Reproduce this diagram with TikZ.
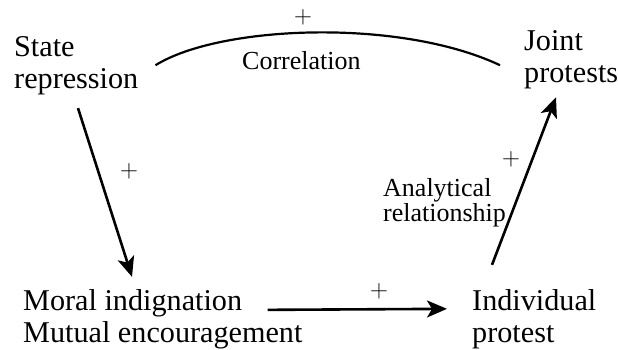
\documentclass[tikz,border=0pt]{standalone}
\usepackage{fontspec}
\setmainfont{Liberation Serif}
\usetikzlibrary{arrows.meta,positioning,calc}
\newcommand{\bigtxt}{\fontsize{30.2}{32}\selectfont}
\newcommand{\smalltxt}{\fontsize{26}{23}\selectfont}
\tikzset{
  factor/.style={align=left, inner sep=0pt, anchor=base west, font=\bigtxt},
  note/.style={align=left, inner sep=0pt, anchor=base west, font=\smalltxt},
  sign/.style={inner sep=0pt, font=\fontsize{23}{23}\selectfont},
  link/.style={line width=2.6pt, -{Stealth[length=20pt,width=17pt,inset=5pt]}},
  corr/.style={line width=2.2pt},
}

\begin{document}
\begin{tikzpicture}[x=1pt,y=-1pt]
 \useasboundingbox (0,0) rectangle (618,349);
 % factors (anchored at the baseline of the last line)
 \node[factor] (repr) at (14,88) {State\\repression};
 \node[factor] (joint) at (524,82) {Joint\\protests};
 \node[factor] (moral) at (23,342) {Moral indignation\\Mutual encouragement};
 \node[factor] (indiv) at (472,342) {Individual\\protest};
 % notes
 \node[note] (corrtxt) at (242,69) {Correlation};
 \node[note] (anatxt) at (383,221) {Analytical\\relationship};
 % links
 \draw[corr] ([shift={(17,0)}]repr.east) .. controls (220,25) and (400,18) .. ([shift={(-24,6)}]joint.west);
 \draw[link] ([shift={(64,13.5)}]repr.south west) -- ([shift={(109,-12)}]moral.north west);
 \draw[link] ([shift={(-35,21)}]moral.north east) -- ([shift={(-25,20)}]indiv.north west);
 \draw[link] ([shift={(20,-24)}]indiv.north west) -- ([shift={(32,8.6)}]joint.south west);
 % signs
 \node[sign] (pcorr) at (303,17) {$+$};
 \node[sign] (prepr) at (129,171) {$+$};
 \node[sign] (pmoral) at (379,291) {$+$};
 \node[sign] (pindiv) at (511,159) {$+$};
\end{tikzpicture}
\end{document}
